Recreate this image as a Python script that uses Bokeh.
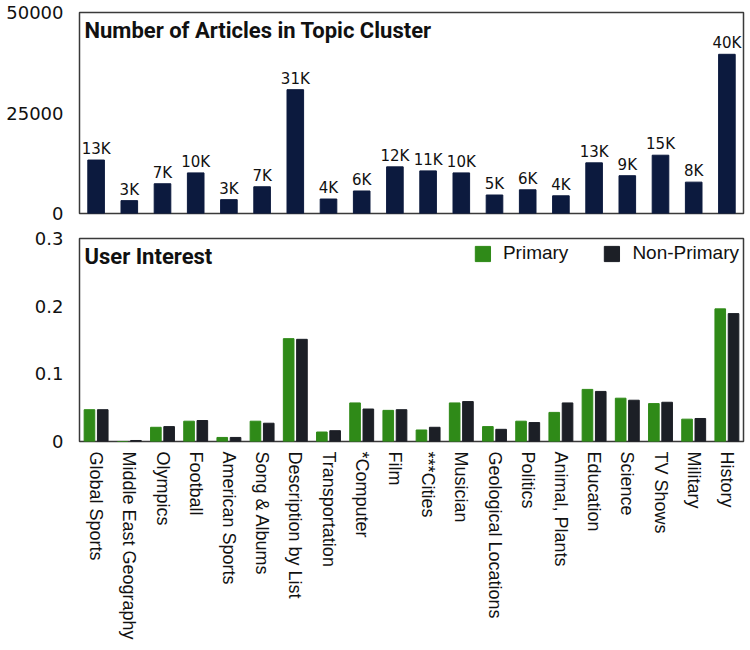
from bokeh.plotting import figure
from bokeh.models import ColumnDataSource, FactorRange, Range1d, FixedTicker, Label
from bokeh.layouts import column
from bokeh.transform import dodge
from bokeh.embed import file_html
from bokeh.resources import INLINE

topics = ["Global Sports", "Middle East Geography", "Olympics", "Football", "American Sports",
          "Song & Albums", "Description by List", "Transportation", "*Computer", "Film",
          "***Cities", "Musician", "Geological Locations", "Politics", "Animal, Plants",
          "Education", "Science", "TV Shows", "Military", "History"]
articles = [13300, 3200, 7400, 10100, 3450, 6650, 30800, 3600, 5600, 11600,
            10600, 10100, 4600, 5900, 4400, 12600, 9400, 14500, 7800, 39600]
article_labels = ["13K", "3K", "7K", "10K", "3K", "7K", "31K", "4K", "6K", "12K",
                  "11K", "10K", "5K", "6K", "4K", "13K", "9K", "15K", "8K", "40K"]
primary = [0.047, 0.0, 0.021, 0.030, 0.006, 0.030, 0.152, 0.014, 0.057, 0.046,
           0.017, 0.057, 0.022, 0.030, 0.043, 0.077, 0.064, 0.056, 0.033, 0.196]
non_primary = [0.047, 0.0015, 0.022, 0.031, 0.006, 0.027, 0.151, 0.016, 0.048, 0.047,
               0.021, 0.059, 0.018, 0.028, 0.057, 0.074, 0.061, 0.058, 0.034, 0.189]
top_ticks = [0, 25000, 50000]
bottom_ticks = [0, 0.1, 0.2, 0.3]

NAVY = "#0c1a3e"
GREEN = "#2f8a18"
DARK = "#1c1f26"
TITLE_FONT = "Roboto"
TICK_FONT = "DejaVu Sans"
LABEL_FONT = "Liberation Sans"

src1 = ColumnDataSource(dict(topic=topics, n=articles, lab=article_labels))
src2 = ColumnDataSource(dict(topic=topics, p=primary, np=non_primary))


def style(p):
    p.outline_line_color = "#3a3a3a"
    p.outline_line_width = 1.5
    p.xgrid.visible = False
    p.ygrid.visible = False
    p.yaxis.axis_line_color = None
    p.yaxis.major_tick_line_color = None
    p.yaxis.minor_tick_line_color = None
    p.yaxis.major_tick_out = 0
    p.yaxis.major_label_standoff = 16
    p.yaxis.major_label_text_font = TICK_FONT
    p.yaxis.major_label_text_font_size = "18px"
    p.yaxis.major_label_text_color = "#111111"
    p.background_fill_color = "white"
    p.border_fill_color = "white"


p1 = figure(x_range=FactorRange(*topics, range_padding=0), y_range=Range1d(0, 50000),
            width=748, height=223, output_backend="svg", toolbar_location=None,
            min_border_left=79, min_border_right=5, min_border_top=12, min_border_bottom=10)
style(p1)
p1.xaxis.visible = False
p1.yaxis.ticker = FixedTicker(ticks=top_ticks)
p1.vbar(x="topic", top="n", width=0.5, source=src1, color=NAVY)
p1.text(x="topic", y="n", text="lab", source=src1, text_align="center",
        text_baseline="bottom", y_offset=-2, text_font_size="15px",
        text_font={"value": TICK_FONT}, text_color="#111111")
p1.add_layout(Label(x=0.15, y=48600, text="Number of Articles in Topic Cluster",
                    text_baseline="top", text_font=TITLE_FONT, text_font_style="bold",
                    text_font_size="22px", text_color="#111111"))

p2 = figure(x_range=FactorRange(*topics, range_padding=0), y_range=Range1d(0, 0.3),
            width=748, height=425, output_backend="svg", toolbar_location=None,
            min_border_left=79, min_border_right=5, min_border_top=15, min_border_bottom=207)
style(p2)
p2.yaxis.ticker = FixedTicker(ticks=bottom_ticks)
p2.xaxis.axis_line_color = None
p2.xaxis.major_tick_line_color = None
p2.xaxis.minor_tick_line_color = None
p2.xaxis.major_tick_out = 0
p2.xaxis.major_label_standoff = 10
p2.xaxis.major_label_orientation = "vertical"
p2.xaxis.major_label_text_font = LABEL_FONT
p2.xaxis.major_label_text_font_size = "18px"
p2.xaxis.major_label_text_color = "#111111"
p2.vbar(x=dodge("topic", -0.2, range=p2.x_range), top="p", width=0.32, source=src2,
        color=GREEN, legend_label="Primary")
p2.vbar(x=dodge("topic", 0.2, range=p2.x_range), top="np", width=0.32, source=src2,
        color=DARK, legend_label="Non-Primary")
p2.add_layout(Label(x=0.15, y=0.292, text="User Interest", text_baseline="top",
                    text_font=TITLE_FONT, text_font_style="bold",
                    text_font_size="22px", text_color="#111111"))
lg = p2.legend[0]
lg.location = "top_right"
lg.orientation = "horizontal"
lg.border_line_color = None
lg.background_fill_alpha = 0
lg.label_text_font = LABEL_FONT
lg.label_text_font_size = "19px"
lg.label_text_color = "#111111"
lg.glyph_width = 19
lg.glyph_height = 19
lg.label_standoff = 11
lg.spacing = 34
lg.margin = 4
lg.padding = 4

layout = column(p1, p2, spacing=0)
open("out.html", "w").write(file_html(layout, INLINE))
